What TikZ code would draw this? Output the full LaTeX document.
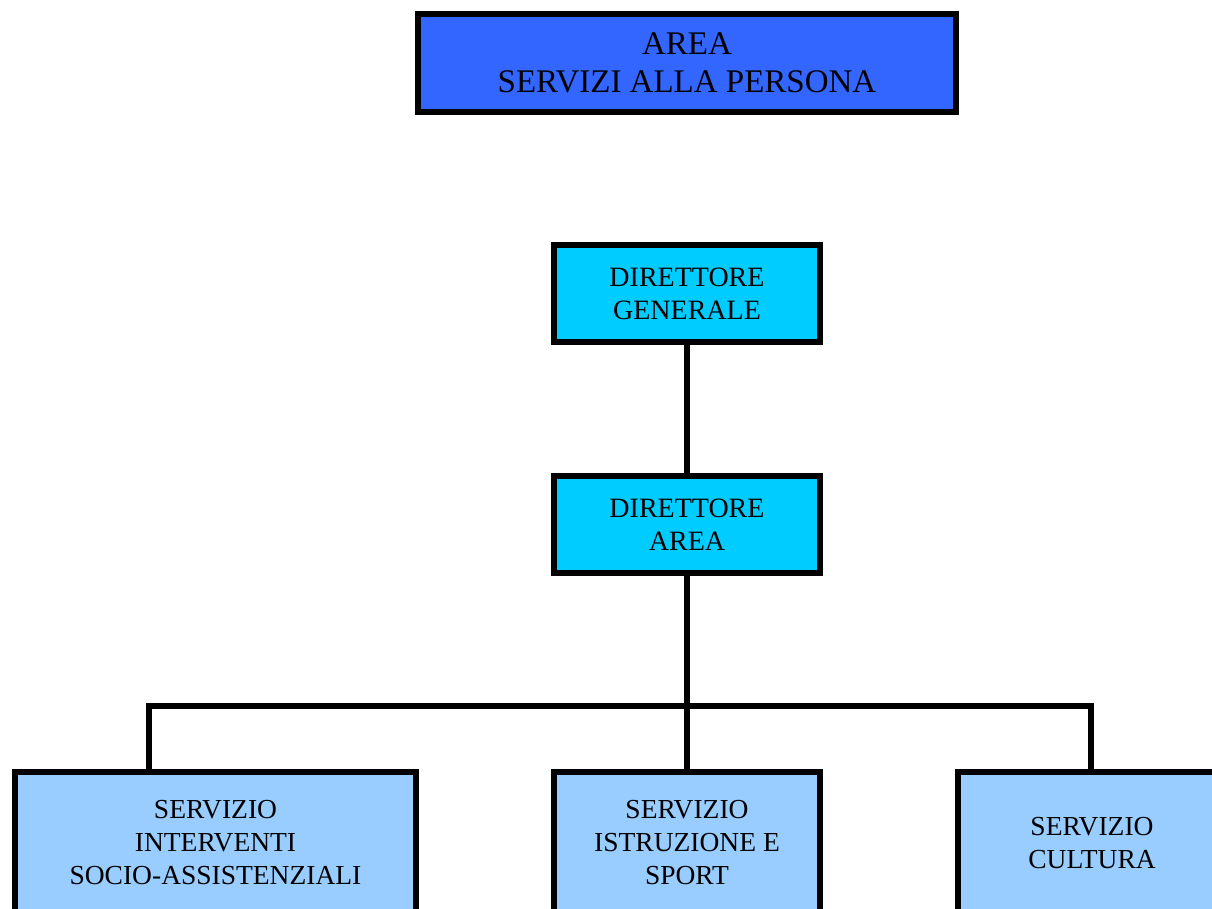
\documentclass[tikz,border=0pt]{standalone}
\usepackage{fontspec}
\setmainfont{Liberation Serif}
\usepackage{tikz}
\usetikzlibrary{positioning, calc}
\definecolor{areablue}{HTML}{3366FF}
\definecolor{dirblue}{HTML}{00CCFF}
\definecolor{servblue}{HTML}{99CCFF}
\tikzset{
  box/.style={draw=black, line width=6pt, align=center, inner sep=0pt, outer sep=0pt,
    font=\fontsize{27.5}{33}\selectfont},
  areabox/.style={box, fill=areablue, minimum width=538pt, minimum height=98pt,
    font=\fontsize{33}{38}\selectfont},
  dirbox/.style={box, fill=dirblue, minimum width=266pt, minimum height=97pt,
    font=\fontsize{28}{33}\selectfont},
  servbox/.style={box, fill=servblue, minimum height=142pt},
  link/.style={line width=6pt, line join=miter}
}

\begin{document}
\begin{tikzpicture}[x=1pt, y=1pt]
  \useasboundingbox (0,0) rectangle (1212,-909);
  \clip (0,0) rectangle (1212,-909);

  \node[areabox] (area) at (687,-63) {AREA\\SERVIZI ALLA PERSONA};
  \node[dirbox] (dg) at (687,-293.5) {DIRETTORE\\GENERALE};
  \node[dirbox] (da) at (687,-524.5) {DIRETTORE\\AREA};

  \node[servbox, minimum width=401pt] (socio) at (215.5,-843) {SERVIZIO\\INTERVENTI\\SOCIO-ASSISTENZIALI};
  \node[servbox, minimum width=266pt] (istr) at (687,-843) {SERVIZIO\\ISTRUZIONE E\\SPORT};
  \node[servbox, minimum width=268pt] (cult) at (1092,-843) {SERVIZIO\\CULTURA};

  \coordinate (bus) at (687,-706);

  \draw[link] (dg) -- (da);
  \draw[link] (da) -- (istr);
  \draw[link] (socio.north -| 149,0) |- (bus) -| (cult.north -| 1091,0);
\end{tikzpicture}
\end{document}
